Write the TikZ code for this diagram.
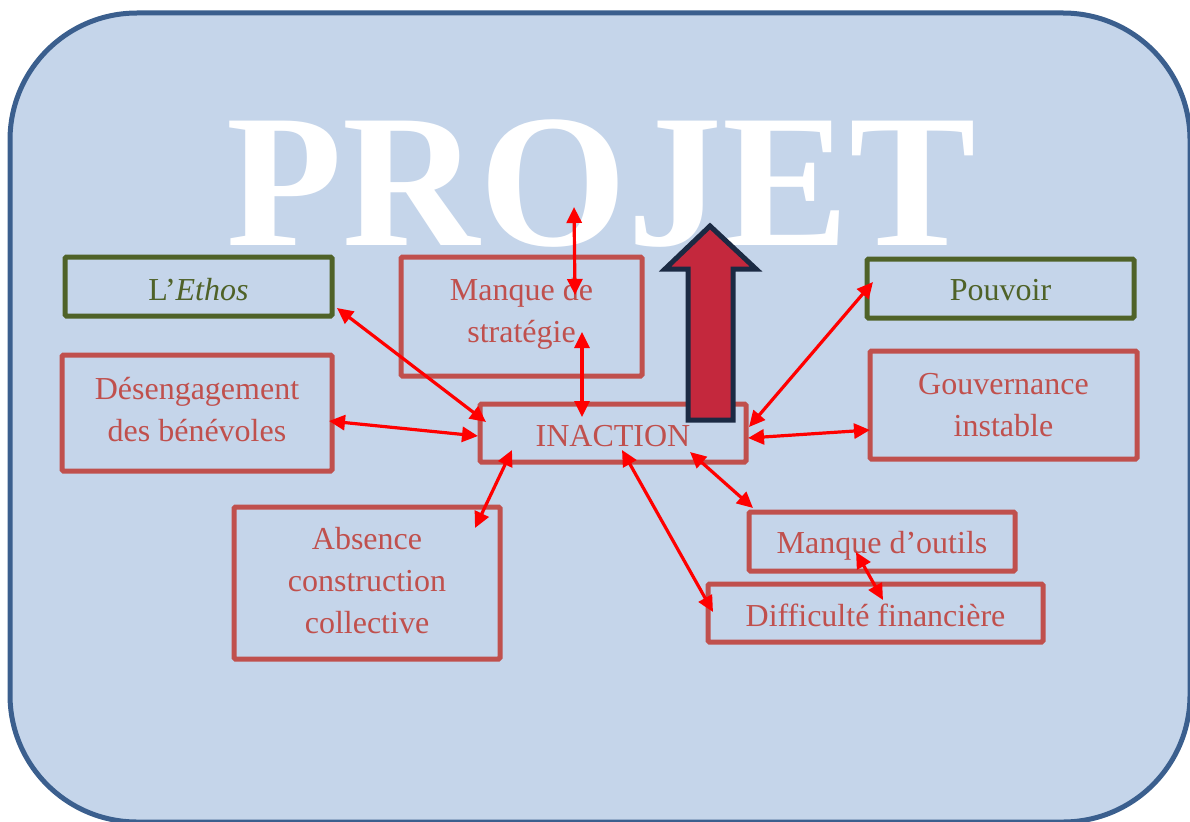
\documentclass[tikz,border=0pt]{standalone}
\usepackage{fontspec}
\setmainfont{Liberation Serif}
\usetikzlibrary{arrows.meta}
\definecolor{bgfill}{HTML}{C5D5EA}
\definecolor{bgline}{HTML}{3B5F8E}
\definecolor{boxred}{HTML}{C0504D}
\definecolor{boxgreen}{HTML}{4F6228}
\definecolor{arrowred}{HTML}{FF0000}
\definecolor{bigfill}{HTML}{C4283D}
\definecolor{bigline}{HTML}{1B2A43}
\begin{document}
\begin{tikzpicture}[x=1pt,y=-1pt,
  redbox/.style={draw=boxred, line width=5pt, rounded corners=1.5pt, inner sep=0pt},
  greenbox/.style={redbox, draw=boxgreen},
  redtext/.style={text=boxred, align=center, font=\fontsize{32}{42}\selectfont, inner sep=0pt},
  greentext/.style={redtext, text=boxgreen},
  link/.style={draw=arrowred, line width=3.2pt,
    {Triangle[length=16pt,width=15pt]}-{Triangle[length=16pt,width=15pt]}}]
\useasboundingbox (0,0) rectangle (1190,821);
\clip (0,0) rectangle (1190,821);
\draw[fill=bgfill, draw=bgline, line width=5pt, rounded corners=127pt] (10,13) rectangle (1190,822);

\node[font=\fontsize{190}{190}\selectfont\bfseries, text=white, anchor=base, inner sep=0pt] (title) at (601,245) {PROJET};

% boxes
\node[greenbox, minimum width=267pt, minimum height=59pt] (ethos) at (198.5,286.5) {};
\node[redbox, minimum width=241pt, minimum height=119pt] (strat) at (521.5,316.5) {};
\node[greenbox, minimum width=267pt, minimum height=59pt] (pouvoir) at (1000.5,288.5) {};
\node[redbox, minimum width=270pt, minimum height=116pt] (deseng) at (197,413) {};
\node[redbox, minimum width=266pt, minimum height=58pt] (inaction) at (613,433) {};
\node[redbox, minimum width=267pt, minimum height=108pt] (gouv) at (1003.5,405) {};
\node[redbox, minimum width=266pt, minimum height=152pt] (absence) at (367,583) {};
\node[redbox, minimum width=266pt, minimum height=59pt] (outils) at (882,541.5) {};
\node[redbox, minimum width=335pt, minimum height=58pt] (fin) at (875.5,613) {};

% texts
\node[greentext] (ethostxt) at ([yshift=-3pt]ethos.center) {L’\textit{Ethos}};
\node[redtext] (strattxt) at ([yshift=2.5pt]strat.center) {Manque de\\stratégie};
\node[greentext] (pouvoirtxt) at ([yshift=-2pt]pouvoir.center) {Pouvoir};
\node[redtext] (desengtxt) at ([yshift=3pt]deseng.center) {Désengagement\\des bénévoles};
\node[redtext] (inactiontxt) at ([yshift=-3.5pt]inaction.center) {INACTION};
\node[redtext] (gouvtxt) at (gouv.center) {Gouvernance\\instable};
\node[redtext] (absencetxt) at ([yshift=2pt]absence.center) {Absence\\construction\\collective};
\node[redtext] (outilstxt) at ([yshift=-4pt]outils.center) {Manque d’outils};
\node[redtext] (fintxt) at ([yshift=-2.7pt]fin.center) {Difficulté financière};

% big arrow
\draw[fill=bigfill, draw=bigline, line width=5pt, miter limit=10]
  (710,226) -- (756,269) -- (733,269) -- (733,420) -- (688,420) -- (688,269) -- (665,269) -- cycle;

% red connectors
\coordinate (a1) at (574,207); \coordinate (b1) at (575,295);
\coordinate (a2) at (582,332); \coordinate (b2) at (582,417);
\coordinate (a3) at (337,308); \coordinate (b3) at (486,422);
\coordinate (a4) at (329,421); \coordinate (b4) at (478,436);
\coordinate (a5) at (475,528); \coordinate (b5) at (512,450);
\coordinate (a6) at (622,450); \coordinate (b6) at (713,612);
\coordinate (a7) at (690,452); \coordinate (b7) at (753,508);
\coordinate (a8) at (856,552); \coordinate (b8) at (883,600);
\coordinate (a9) at (873,282); \coordinate (b9) at (749,427);
\coordinate (a10) at (870,430); \coordinate (b10) at (748,438);
\foreach \i in {1,...,10} { \draw[link] (a\i) -- (b\i); }
\end{tikzpicture}
\end{document}
